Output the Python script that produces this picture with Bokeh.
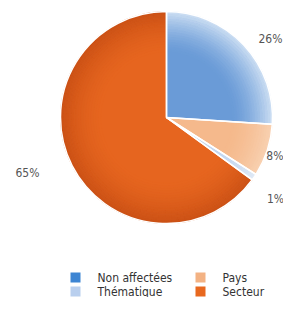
import math
from bokeh.plotting import figure
from bokeh.models import Range1d, ColumnDataSource
from bokeh.core.properties import value
from bokeh.embed import file_html
from bokeh.resources import INLINE

categories = ["Non affectées", "Pays", "Thématique", "Secteur"]
shares = [26, 8, 1, 65]
pct_labels = ["26%", "8%", "1%", "65%"]

legend_order = ["Non affectées", "Thématique", "Pays", "Secteur"]
legend_colors = ["#3d85d3", "#b9cfee", "#f3b283", "#e8681f"]

# inner / outer colours of each slice (soft radial shading)
inner_colors = ["#6a9bd7", "#f5b98c", "#c4d7f0", "#e6651f"]
outer_colors = ["#c9dcf2", "#f8d0b0", "#dfe9f6", "#cc5216"]

FONT = value("'DejaVu Sans Condensed', 'Liberation Sans Narrow', 'Liberation Sans', sans-serif")

W, H = 283, 297
p = figure(width=W, height=H, output_backend="svg", toolbar_location=None,
           x_range=Range1d(0, W), y_range=Range1d(0, H), min_border=0)
p.axis.visible = False
p.grid.visible = False
p.outline_line_color = None
p.background_fill_color = "white"


def sy(y):
    return H - y


def mix(c1, c2, t):
    a = [int(c1[i:i + 2], 16) for i in (1, 3, 5)]
    b = [int(c2[i:i + 2], 16) for i in (1, 3, 5)]
    return "#%02x%02x%02x" % tuple(round(a[k] + (b[k] - a[k]) * t) for k in range(3))


cx, cy, r = 166, 117, 106
total = sum(shares)
start = []
end = []
a = math.pi / 2
for s in shares:
    start.append(a)
    a -= s / total * 2 * math.pi
    end.append(a)

# base wedges
src = ColumnDataSource(dict(start=start, end=end, color=inner_colors, cat=categories))
p.wedge(x=cx, y=sy(cy), radius=r, start_angle="start", end_angle="end",
        fill_color="color", line_color=None, source=src, direction="clock")

# outer shading rings
N = 16
ring_in, ring_out, rs, re_, rc = [], [], [], [], []
for k in range(N):
    t0 = 0.62 + 0.38 * k / N
    t1 = 0.62 + 0.38 * (k + 1) / N
    for i in range(len(shares)):
        ring_in.append(r * t0)
        ring_out.append(r * t1)
        rs.append(start[i])
        re_.append(end[i])
        rc.append(mix(inner_colors[i], outer_colors[i], ((k + 1) / N) ** 1.6))
p.annular_wedge(x=cx, y=sy(cy), inner_radius=ring_in, outer_radius=ring_out,
                start_angle=rs, end_angle=re_, fill_color=rc, line_color=rc,
                line_width=0.6, direction="clock")

# slice separators
p.wedge(x=cx, y=sy(cy), radius=r, start_angle="start", end_angle="end",
        fill_color=None, line_color="white", line_width=1.5, source=src,
        direction="clock")

# percent labels
lab_pos = [(270, 38), (283, 155), (275, 198), (27, 172)]
aligns = ["center", "right", "center", "center"]
p.text(x=[q[0] for q in lab_pos], y=[sy(q[1]) for q in lab_pos], text=pct_labels,
       text_font=FONT, text_font_size="12px", text_align=aligns,
       text_color="#555555", text_baseline="middle")

# legend
lx = [70, 70, 195, 195]
ly = [277, 291, 277, 291]
p.rect(x=[x + 5 for x in lx], y=[sy(y) for y in ly], width=10, height=10,
       fill_color=legend_colors, line_color=None)
p.text(x=[x + 27 for x in lx], y=[sy(y) for y in ly], text=legend_order,
       text_font=FONT, text_font_size="12px",
       text_color="#333333", text_baseline="middle")

open("out.html", "w").write(file_html(p, INLINE))
